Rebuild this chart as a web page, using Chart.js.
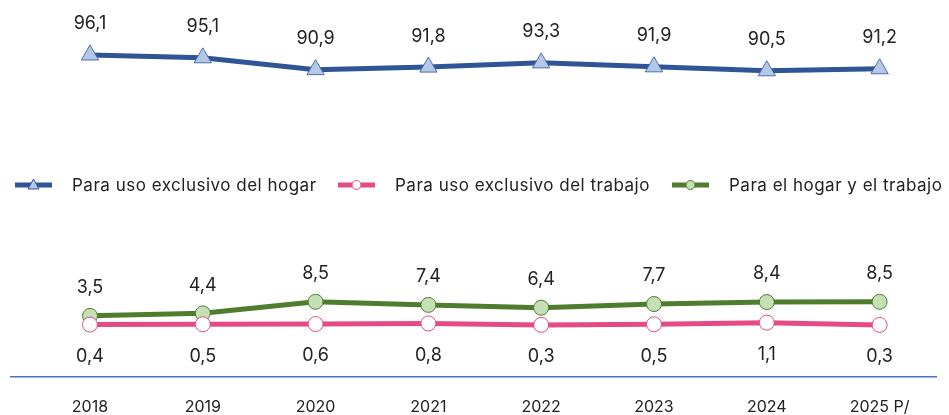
<!DOCTYPE html>
<html>
<head>
<meta charset="utf-8">
<script src="https://cdn.jsdelivr.net/npm/chart.js@4/dist/chart.umd.min.js"></script>
<style>
  body { margin: 0; background: #fff; font-family: Inter, "Open Sans", sans-serif; }
  #wrap { position: relative; width: 949px; height: 415px; }
  .leg { position: absolute; top: 175px; display: flex; align-items: center; font-size: 17px; letter-spacing: 0.5px; color: #222; white-space: nowrap; }
  .leg svg { margin-right: 20px; }
</style>
</head>
<body>
<div id="wrap">
  <canvas id="chart" width="949" height="415"></canvas>
  <div class="leg" style="left:15px"><svg width="37" height="20"><line x1="0" y1="10" x2="37" y2="10" stroke="#2F5597" stroke-width="5"/><polygon points="18.5,4 24,14 13,14" fill="#B4C7E7" stroke="#2F5597" stroke-width="1"/></svg>Para uso exclusivo del hogar</div>
  <div class="leg" style="left:338px"><svg width="37" height="20"><line x1="0" y1="10" x2="37" y2="10" stroke="#E64A82" stroke-width="5"/><circle cx="18.5" cy="10" r="4.5" fill="#fff" stroke="#E64A82" stroke-width="1"/></svg>Para uso exclusivo del trabajo</div>
  <div class="leg" style="left:672px"><svg width="37" height="20"><line x1="0" y1="10" x2="37" y2="10" stroke="#4E7D2E" stroke-width="5"/><circle cx="18.5" cy="10" r="4.5" fill="#C5E0B4" stroke="#4E7D2E" stroke-width="1"/></svg>Para el hogar y el trabajo</div>
</div>
<script>
const years = ['2018', '2019', '2020', '2021', '2022', '2023', '2024', '2025 P/'];
const hogar = [96.1, 95.1, 90.9, 91.8, 93.3, 91.9, 90.5, 91.2];
const trabajo = [0.4, 0.5, 0.6, 0.8, 0.3, 0.5, 1.1, 0.3];
const ambos = [3.5, 4.4, 8.5, 7.4, 6.4, 7.7, 8.4, 8.5];

const fmt = v => v.toFixed(1).replace('.', ',');
const pts = arr => arr.map((v, i) => ({ x: i, y: v }));

// value labels drawn next to each point
const valueLabels = {
  id: 'valueLabels',
  afterDatasetsDraw(chart) {
    const ctx = chart.ctx;
    ctx.save();
    ctx.font = '18px Inter, "Open Sans", sans-serif';
    ctx.fillStyle = '#222';
    ctx.textAlign = 'center';
    ctx.textBaseline = 'middle';
    chart.data.datasets.forEach((ds, di) => {
      chart.getDatasetMeta(di).data.forEach((p, i) => {
        ctx.fillText(fmt(ds.data[i].y), p.x, p.y + ds.labelOffset);
      });
    });
    ctx.restore();
  }
};

new Chart(document.getElementById('chart'), {
  type: 'line',
  data: {
    datasets: [
      { label: 'Para uso exclusivo del hogar', data: pts(hogar), borderColor: '#2F5597', borderWidth: 5,
        pointStyle: 'triangle', pointRadius: 10, pointBackgroundColor: '#B4C7E7', pointBorderColor: '#4A6FB0', pointBorderWidth: 1, labelOffset: -31 },
      { label: 'Para uso exclusivo del trabajo', data: pts(trabajo), borderColor: '#E64A82', borderWidth: 5,
        pointRadius: 7.5, pointBackgroundColor: '#fff', pointBorderColor: '#E64A82', pointBorderWidth: 1, labelOffset: 32 },
      { label: 'Para el hogar y el trabajo', data: pts(ambos), borderColor: '#4E7D2E', borderWidth: 5,
        pointRadius: 7.5, pointBackgroundColor: '#C5E0B4', pointBorderColor: '#4E7D2E', pointBorderWidth: 1, labelOffset: -28 }
    ]
  },
  options: {
    responsive: false,
    animation: false,
    layout: { padding: { left: 9, right: 13, top: 44, bottom: 0 } },
    clip: false,
    scales: {
      x: {
        type: 'linear', min: -0.7, max: 7.5,
        afterBuildTicks: s => { s.ticks = years.map((_, i) => ({ value: i })); },
        afterFit: s => { s.height = 38; },
        grid: { display: false, drawTicks: false },
        border: { color: '#4472C4', width: 1.5 },
        ticks: { padding: 21, maxRotation: 0, color: '#222', font: { size: 16, family: 'Inter, "Open Sans", sans-serif' }, callback: v => years[v] }
      },
      y: { display: false, min: -18.2, max: 100 }
    },
    plugins: { legend: { display: false }, tooltip: { enabled: false } }
  },
  plugins: [valueLabels]
});
</script>
</body>
</html>
